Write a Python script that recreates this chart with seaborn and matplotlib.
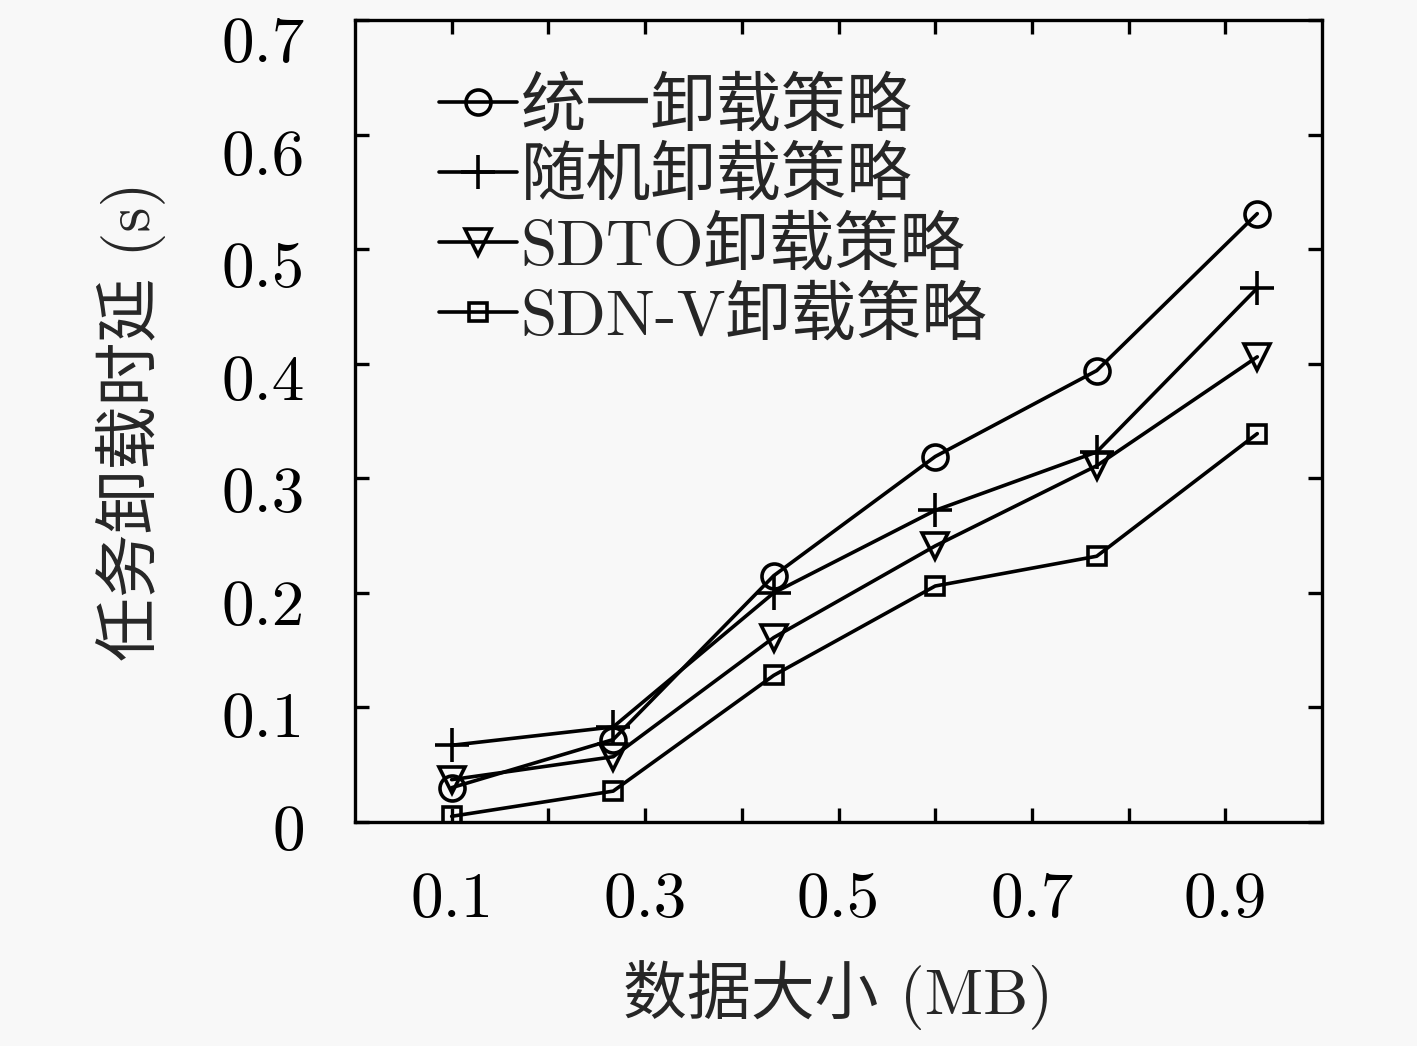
import seaborn as sns
import matplotlib.pyplot as plt
import matplotlib.transforms as mtransforms
import pandas as pd

# 数据
data_size = [0.1, 0.267, 0.433, 0.6, 0.767, 0.933]
unified = [0.030, 0.072, 0.215, 0.319, 0.394, 0.531]
random_pol = [0.067, 0.083, 0.200, 0.272, 0.323, 0.466]
sdto = [0.037, 0.057, 0.161, 0.241, 0.311, 0.406]
sdnv = [0.005, 0.027, 0.128, 0.206, 0.232, 0.339]

names = ["统一卸载策略", "随机卸载策略", "SDTO卸载策略", "SDN-V卸载策略"]
series = [unified, random_pol, sdto, sdnv]
markers = ["o", "+", "v", "s"]
msizes = [18, 24, 19, 13]

xticks = [0.1, 0.2, 0.3, 0.4, 0.5, 0.6, 0.7, 0.8, 0.9]
xticklabels = ["0.1", "", "0.3", "", "0.5", "", "0.7", "", "0.9"]
yticks = [0, 0.1, 0.2, 0.3, 0.4, 0.5, 0.6, 0.7]
yticklabels = ["0", "0.1", "0.2", "0.3", "0.4", "0.5", "0.6", "0.7"]

sns.set_style("ticks")
plt.rcParams["font.family"] = ["cmr10", "Noto Sans CJK SC", "DejaVu Sans"]
plt.rcParams["axes.formatter.use_mathtext"] = True
plt.rcParams["axes.unicode_minus"] = False

fig = plt.figure(figsize=(14.17, 10.46), dpi=100, facecolor="#f8f8f8")
ax = fig.add_axes([0.2505, 0.2141, 0.6825, 0.7668])
ax.set_facecolor("#f8f8f8")

for name, vals, m, ms in zip(names, series, markers, msizes):
    df = pd.DataFrame({"x": data_size, "y": vals})
    sns.lineplot(data=df, x="x", y="y", ax=ax, color="black", lw=2.6,
                 marker=m, markersize=ms, markerfacecolor="none",
                 markeredgecolor="black", markeredgewidth=2.6, label=name)

ax.set_xlim(0, 1.0)
ax.set_ylim(0, 0.7)
ax.set_xticks(xticks)
ax.set_xticklabels(xticklabels)
ax.set_yticks(yticks)
ax.set_yticklabels(yticklabels)
ax.tick_params(axis="both", direction="in", length=10, width=2.4,
               top=True, right=True, labelsize=47, colors="black")
ax.tick_params(axis="x", pad=36)
ax.tick_params(axis="y", pad=36)
for sp in ax.spines.values():
    sp.set_linewidth(2.4)
    sp.set_color("black")

# y 刻度标签略微下移（与原图一致）
for v, lab in zip(yticks, ax.get_yticklabels()):
    dy = -(5 + v / 0.7 * 15) / 100.0
    lab.set_transform(lab.get_transform() +
                      mtransforms.ScaledTranslation(0, dy, fig.dpi_scale_trans))

ax.set_xlabel("数据大小 (MB)", fontsize=46, labelpad=22)
ax.set_ylabel("任务卸载时延 (s)", fontsize=46, labelpad=40)

leg = ax.legend(loc="upper left", bbox_to_anchor=(0.087, 0.928), frameon=False,
                fontsize=47, handlelength=1.2, handletextpad=0.05,
                labelspacing=0.14, borderaxespad=0, borderpad=0)

plt.savefig("out.png", dpi=100, facecolor=fig.get_facecolor())
